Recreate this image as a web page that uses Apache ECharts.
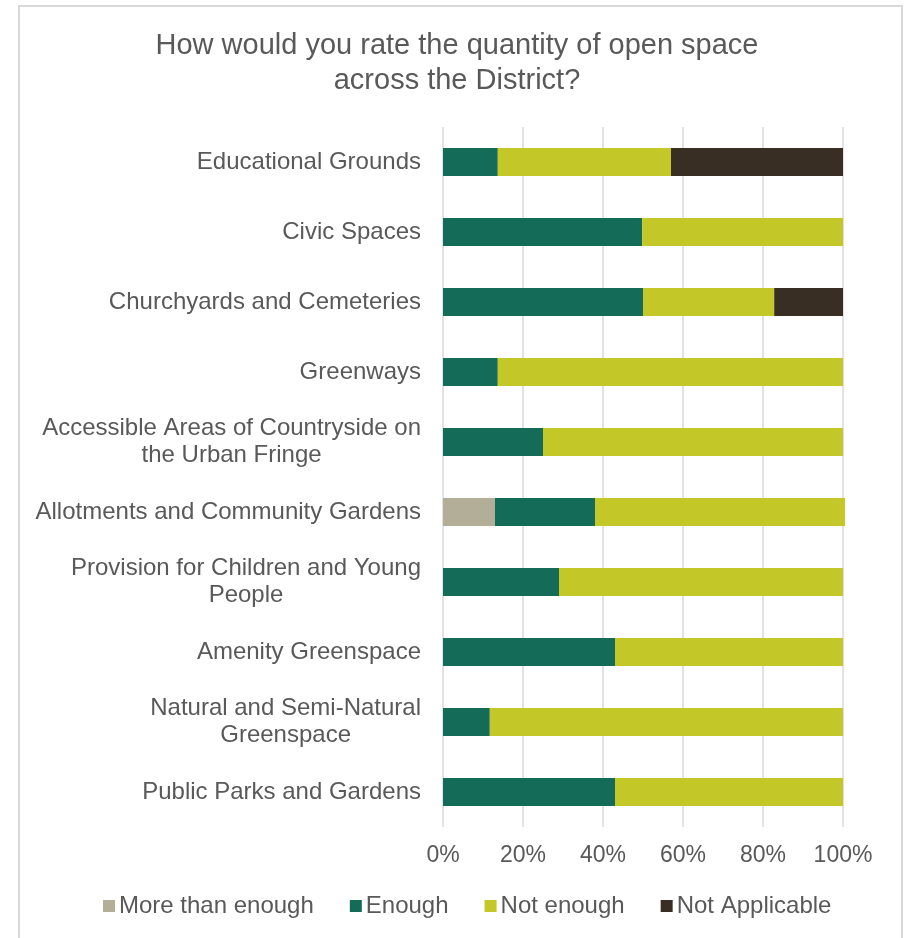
<!DOCTYPE html>
<html>
<head>
<meta charset="utf-8">
<title>Quantity of open space</title>
<script src="https://cdn.jsdelivr.net/npm/echarts@6/dist/echarts.min.js"></script>
<style>
  html, body { margin: 0; padding: 0; background: #ffffff; }
  #chart { width: 904px; height: 938px; }
</style>
</head>
<body>
<div id="chart"></div>
<script>
// Open space types, listed top to bottom
const categories = [
  'Educational Grounds',
  'Civic Spaces',
  'Churchyards and Cemeteries',
  'Greenways',
  'Accessible Areas of Countryside on\nthe Urban Fringe',
  'Allotments and Community Gardens',
  'Provision for Children and Young\nPeople',
  'Amenity Greenspace',
  'Natural and Semi-Natural\nGreenspace',
  'Public Parks and Gardens'
];

// Share of responses (%) for each rating
const moreThanEnough = [0, 0, 0, 0, 0, 13, 0, 0, 0, 0];
const enough         = [13.7, 49.8, 50, 13.7, 25, 25, 29, 43, 11.7, 43];
const notEnough      = [43.3, 50.2, 32.8, 86.3, 75, 62.5, 71, 57, 88.3, 57];
const notApplicable  = [43, 0, 17.2, 0, 0, 0, 0, 0, 0, 0];

const xTicks = [0, 20, 40, 60, 80, 100];

const seriesNames = ['More than enough', 'Enough', 'Not enough', 'Not Applicable'];
const seriesData = [moreThanEnough, enough, notEnough, notApplicable];
const seriesColors = ['#b2ae98', '#136b58', '#c3c828', '#382e24'];

const FONT = '"Liberation Sans", Arial, sans-serif';
const TEXT = '#595959';

const chart = echarts.init(document.getElementById('chart'), null, { renderer: 'canvas' });

chart.setOption({
  backgroundColor: '#ffffff',
  animation: false,
  textStyle: { fontFamily: FONT },
  graphic: [{
    type: 'rect',
    silent: true,
    shape: { x: 19, y: 6, width: 883, height: 950 },
    style: { fill: 'none', stroke: '#d9d9d9', lineWidth: 2 }
  }],
  title: {
    text: 'How would you rate the quantity of open space\nacross the District?',
    left: 457,
    top: 28,
    padding: 0,
    textAlign: 'center',
    textStyle: {
      fontFamily: FONT,
      fontSize: 29,
      fontWeight: 'normal',
      color: TEXT,
      lineHeight: 35
    }
  },
  legend: {
    data: seriesNames,
    left: 103,
    top: 894,
    padding: 0,
    itemWidth: 12,
    itemHeight: 12,
    itemGap: 36,
    icon: 'rect',
    textStyle: { fontFamily: FONT, fontSize: 24, color: TEXT, padding: [0, 0, 0, -1] }
  },
  grid: {
    left: 443,
    right: 61,
    top: 127,
    bottom: 111,
    containLabel: false
  },
  xAxis: {
    type: 'value',
    min: xTicks[0],
    max: xTicks[xTicks.length - 1],
    interval: xTicks[1] - xTicks[0],
    axisLine: { show: false },
    axisTick: { show: false },
    splitLine: { show: true, lineStyle: { color: '#d9d9d9', width: 1.5 } },
    axisLabel: {
      formatter: '{value}%',
      fontFamily: FONT,
      fontSize: 23,
      color: TEXT,
      margin: 17
    }
  },
  yAxis: {
    type: 'category',
    data: categories,
    inverse: true,
    axisLine: { show: false },
    axisTick: { show: false },
    splitLine: { show: false },
    axisLabel: {
      margin: 22,
      fontFamily: FONT,
      fontSize: 24,
      color: TEXT,
      lineHeight: 27,
      formatter: function (value) {
        return value.split('\n').map(function (line) { return '{c|' + line + '}'; }).join('\n');
      },
      rich: {
        c: { align: 'center', fontFamily: FONT, fontSize: 24, color: TEXT, lineHeight: 27 }
      }
    }
  },
  series: seriesNames.map(function (name, i) {
    return {
      name: name,
      type: 'bar',
      stack: 'total',
      barWidth: 28,
      clip: false,
      itemStyle: { color: seriesColors[i] },
      data: seriesData[i]
    };
  })
});
</script>
</body>
</html>
